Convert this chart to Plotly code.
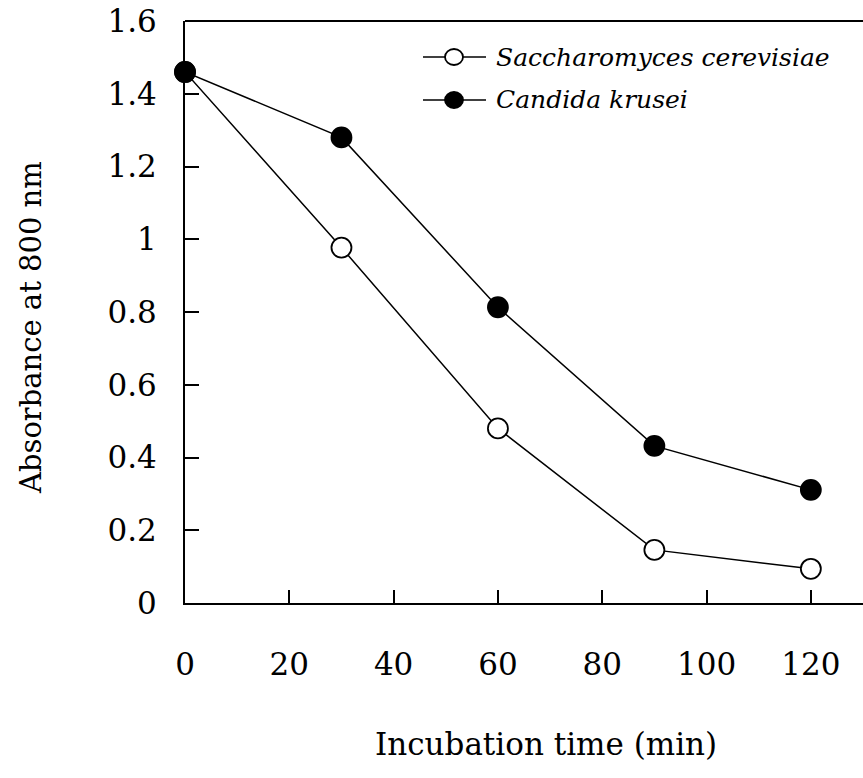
import plotly.graph_objects as go

time_min = [0, 30, 60, 90, 120]
saccharomyces = [1.46, 0.977, 0.48, 0.146, 0.094]
candida = [1.46, 1.28, 0.813, 0.432, 0.311]
x_ticks = [0, 20, 40, 60, 80, 100, 120]
y_ticks = [0, 0.2, 0.4, 0.6, 0.8, 1.0, 1.2, 1.4, 1.6]
y_tick_text = ["0", "0.2", "0.4", "0.6", "0.8", "1", "1.2", "1.4", "1.6"]
series_names = ["Saccharomyces cerevisiae", "Candida krusei"]
marker_fills = ["white", "black"]
x_title = "Incubation time (min)"
y_title = "Absorbance at 800 nm"

FONT = "DejaVu Serif"

W, H = 863, 778
L, R, T, B = 185, 0, 21, 175
PW, PH = W - L - R, H - T - B


def px_x(p):
    return (p - L) / PW


def px_y(p):
    return (H - B - p) / PH


fig = go.Figure()
for name, ys, fill in zip(series_names, [saccharomyces, candida], marker_fills):
    fig.add_trace(go.Scatter(
        x=time_min, y=ys, mode="lines+markers", name=name,
        line=dict(color="black", width=1.5),
        marker=dict(symbol="circle", size=20, color=fill, line=dict(color="black", width=1.8)),
        cliponaxis=False, showlegend=False,
    ))

shapes = [dict(type="line", xref="paper", yref="paper", x0=0, x1=1, y0=1, y1=1,
               line=dict(color="black", width=2))]
annotations = []
legend_rows = [57, 100]
for name, fill, row in zip(series_names, marker_fills, legend_rows):
    shapes.append(dict(type="line", xref="paper", yref="paper",
                       x0=px_x(423), x1=px_x(486), y0=px_y(row), y1=px_y(row),
                       line=dict(color="black", width=1.5)))
    r = 9
    shapes.append(dict(type="circle", xref="paper", yref="paper",
                       x0=px_x(454 - r), x1=px_x(454 + r), y0=px_y(row + r - 1), y1=px_y(row - r + 1),
                       fillcolor=fill, line=dict(color="black", width=1.8)))
    annotations.append(dict(xref="paper", yref="paper", x=px_x(494), y=px_y(row),
                            xanchor="left", yanchor="middle", showarrow=False,
                            text="<i>" + name + "</i>",
                            font=dict(family=FONT, size=25, color="black")))

# axis titles
annotations.append(dict(xref="paper", yref="paper", x=px_x(546), y=px_y(744),
                        xanchor="center", yanchor="middle", showarrow=False,
                        text=x_title, font=dict(family=FONT, size=31, color="black")))
annotations.append(dict(xref="paper", yref="paper", x=px_x(31), y=px_y(328),
                        xanchor="center", yanchor="middle", showarrow=False, textangle=-90,
                        text=y_title, font=dict(family=FONT, size=29, color="black")))

fig.update_layout(
    width=W, height=H,
    margin=dict(l=L, r=R, t=T, b=B),
    paper_bgcolor="white", plot_bgcolor="white",
    font=dict(family=FONT, color="black", size=31),
    showlegend=False,
    xaxis=dict(
        range=[0, 130], tickvals=x_ticks, ticktext=[str(v) for v in x_ticks],
        showline=True, linecolor="black", linewidth=2,
        ticks="inside", ticklen=13, tickwidth=1.5, tickcolor="black",
        showgrid=False, zeroline=False, ticklabelstandoff=33,
        tickfont=dict(family=FONT, size=31),
    ),
    yaxis=dict(
        range=[0, 1.6], tickvals=y_ticks, ticktext=y_tick_text,
        showline=True, linecolor="black", linewidth=2,
        ticks="inside", ticklen=14, tickwidth=1.5, tickcolor="black",
        showgrid=False, zeroline=False, ticklabelstandoff=20,
        tickfont=dict(family=FONT, size=31),
    ),
    shapes=shapes,
    annotations=annotations,
)

fig.write_html("out.html")
